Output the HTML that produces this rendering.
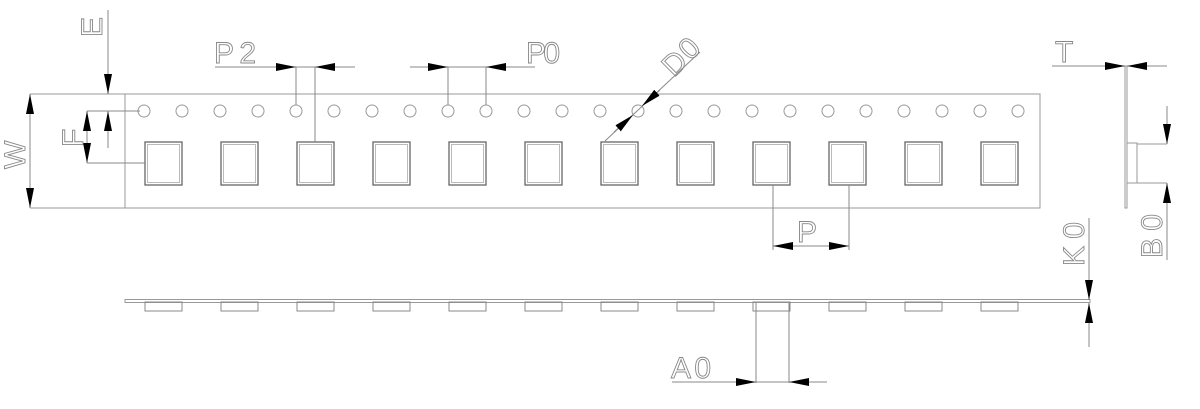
<!DOCTYPE html>
<html><head><meta charset="utf-8"><style>
html,body{margin:0;padding:0;background:#fff;}
svg{display:block;}
text{font-family:"Liberation Sans",sans-serif;font-size:30px;fill:none;stroke:#888;stroke-width:0.9;}
</style></head><body>
<svg width="1200" height="409" viewBox="0 0 1200 409" xmlns="http://www.w3.org/2000/svg">
<defs>
<marker id="a" viewBox="0 0 20 8" refX="20" refY="4" markerWidth="20" markerHeight="8" markerUnits="userSpaceOnUse" orient="auto"><path d="M0,0 L20,4 L0,8 Z" fill="#000"/></marker>
</defs>
<g stroke="#999" stroke-width="1" fill="none">
<rect x="125" y="94" width="915" height="114"/>
<line x1="30" y1="94" x2="125" y2="94"/>
<line x1="30" y1="208" x2="125" y2="208"/>
<circle cx="144" cy="111" r="6"/><circle cx="182" cy="111" r="6"/><circle cx="220" cy="111" r="6"/><circle cx="258" cy="111" r="6"/><circle cx="296" cy="111" r="6"/><circle cx="334" cy="111" r="6"/><circle cx="372" cy="111" r="6"/><circle cx="410" cy="111" r="6"/><circle cx="448" cy="111" r="6"/><circle cx="486" cy="111" r="6"/><circle cx="524" cy="111" r="6"/><circle cx="562" cy="111" r="6"/><circle cx="600" cy="111" r="6"/><circle cx="638" cy="111" r="6"/><circle cx="676" cy="111" r="6"/><circle cx="714" cy="111" r="6"/><circle cx="752" cy="111" r="6"/><circle cx="790" cy="111" r="6"/><circle cx="828" cy="111" r="6"/><circle cx="866" cy="111" r="6"/><circle cx="904" cy="111" r="6"/><circle cx="942" cy="111" r="6"/><circle cx="980" cy="111" r="6"/><circle cx="1018" cy="111" r="6"/>
<rect x="125" y="299.5" width="965" height="3"/>
<rect x="1125" y="66" width="2" height="142"/>
<rect x="1127" y="143" width="10" height="40"/>
<line x1="1137" y1="144" x2="1167" y2="144"/>
<line x1="1137" y1="183" x2="1167" y2="183"/>
</g>
<g stroke="#666" stroke-width="1.3" fill="none">
<rect x="145" y="142" width="37" height="43"/><rect x="221" y="142" width="37" height="43"/><rect x="297" y="142" width="37" height="43"/><rect x="373" y="142" width="37" height="43"/><rect x="449" y="142" width="37" height="43"/><rect x="525" y="142" width="37" height="43"/><rect x="601" y="142" width="37" height="43"/><rect x="677" y="142" width="37" height="43"/><rect x="753" y="142" width="37" height="43"/><rect x="829" y="142" width="37" height="43"/><rect x="905" y="142" width="37" height="43"/><rect x="981" y="142" width="37" height="43"/>
</g>
<g stroke="#aaa" stroke-width="0.8" fill="none">
<rect x="147.5" y="144.5" width="32" height="38"/><rect x="223.5" y="144.5" width="32" height="38"/><rect x="299.5" y="144.5" width="32" height="38"/><rect x="375.5" y="144.5" width="32" height="38"/><rect x="451.5" y="144.5" width="32" height="38"/><rect x="527.5" y="144.5" width="32" height="38"/><rect x="603.5" y="144.5" width="32" height="38"/><rect x="679.5" y="144.5" width="32" height="38"/><rect x="755.5" y="144.5" width="32" height="38"/><rect x="831.5" y="144.5" width="32" height="38"/><rect x="907.5" y="144.5" width="32" height="38"/><rect x="983.5" y="144.5" width="32" height="38"/>
</g>
<g stroke="#888" stroke-width="1" fill="none">
<rect x="145" y="302" width="37" height="9"/><rect x="221" y="302" width="37" height="9"/><rect x="297" y="302" width="37" height="9"/><rect x="373" y="302" width="37" height="9"/><rect x="449" y="302" width="37" height="9"/><rect x="525" y="302" width="37" height="9"/><rect x="601" y="302" width="37" height="9"/><rect x="677" y="302" width="37" height="9"/><rect x="753" y="302" width="37" height="9"/><rect x="829" y="302" width="37" height="9"/><rect x="905" y="302" width="37" height="9"/><rect x="981" y="302" width="37" height="9"/>
</g>
<g stroke="#888" stroke-width="1" fill="none">
<line x1="30" y1="120" x2="30" y2="94" marker-end="url(#a)"/>
<line x1="30" y1="180" x2="30" y2="208" marker-end="url(#a)"/>
<line x1="30" y1="120" x2="30" y2="180"/>
<line x1="108" y1="10" x2="108" y2="94" marker-end="url(#a)"/>
<line x1="108" y1="148" x2="108" y2="111" marker-end="url(#a)"/>
<line x1="87" y1="111" x2="140" y2="111"/>
<line x1="87" y1="163" x2="145" y2="163"/>
<line x1="87" y1="137" x2="87" y2="111" marker-end="url(#a)"/>
<line x1="87" y1="137" x2="87" y2="163" marker-end="url(#a)"/>
<line x1="215" y1="67" x2="296" y2="67" marker-end="url(#a)"/>
<line x1="355" y1="67" x2="315" y2="67" marker-end="url(#a)"/>
<line x1="296" y1="67" x2="315" y2="67"/>
<line x1="296" y1="67" x2="296" y2="105"/>
<line x1="315" y1="67" x2="315" y2="142"/>
<line x1="410" y1="67" x2="448" y2="67" marker-end="url(#a)"/>
<line x1="535" y1="67" x2="486" y2="67" marker-end="url(#a)"/>
<line x1="448" y1="67" x2="486" y2="67"/>
<line x1="448" y1="67" x2="448" y2="105"/>
<line x1="486" y1="67" x2="486" y2="105"/>
<line x1="700" y1="52" x2="605" y2="141"/>
<line x1="660" y1="90" x2="642" y2="106" marker-end="url(#a)"/>
<line x1="614" y1="132" x2="633" y2="115" marker-end="url(#a)"/>
<line x1="773" y1="185" x2="773" y2="250"/>
<line x1="849" y1="185" x2="849" y2="250"/>
<line x1="811" y1="246" x2="773" y2="246" marker-end="url(#a)"/>
<line x1="811" y1="246" x2="849" y2="246" marker-end="url(#a)"/>
<line x1="756" y1="303" x2="756" y2="383"/>
<line x1="789" y1="303" x2="789" y2="383"/>
<line x1="672" y1="382" x2="756" y2="382" marker-end="url(#a)"/>
<line x1="827" y1="382" x2="789" y2="382" marker-end="url(#a)"/>
<line x1="756" y1="382" x2="789" y2="382"/>
<line x1="1089" y1="218" x2="1089" y2="300" marker-end="url(#a)"/>
<line x1="1089" y1="347" x2="1089" y2="303" marker-end="url(#a)"/>
<line x1="1052" y1="66" x2="1125" y2="66" marker-end="url(#a)"/>
<line x1="1167" y1="66" x2="1127" y2="66" marker-end="url(#a)"/>
<line x1="1167" y1="106" x2="1167" y2="144" marker-end="url(#a)"/>
<line x1="1167" y1="260" x2="1167" y2="183" marker-end="url(#a)"/>
</g>
<text x="214" y="63" textLength="42">P2</text>
<text x="526" y="63" textLength="34">P0</text>
<text x="797" y="242">P</text>
<text x="671" y="378" textLength="40">A0</text>
<text x="1055" y="62">T</text>
<text transform="translate(102,37) rotate(-90)">E</text>
<text transform="translate(83,147) rotate(-90)">F</text>
<text transform="translate(25,169) rotate(-90)">W</text>
<text transform="translate(1084,266) rotate(-90)" textLength="44">K0</text>
<text transform="translate(1162,258) rotate(-90)" textLength="44">B0</text>
<text transform="translate(674,78) rotate(-45)" textLength="40">D0</text>
</svg>
</body></html>
